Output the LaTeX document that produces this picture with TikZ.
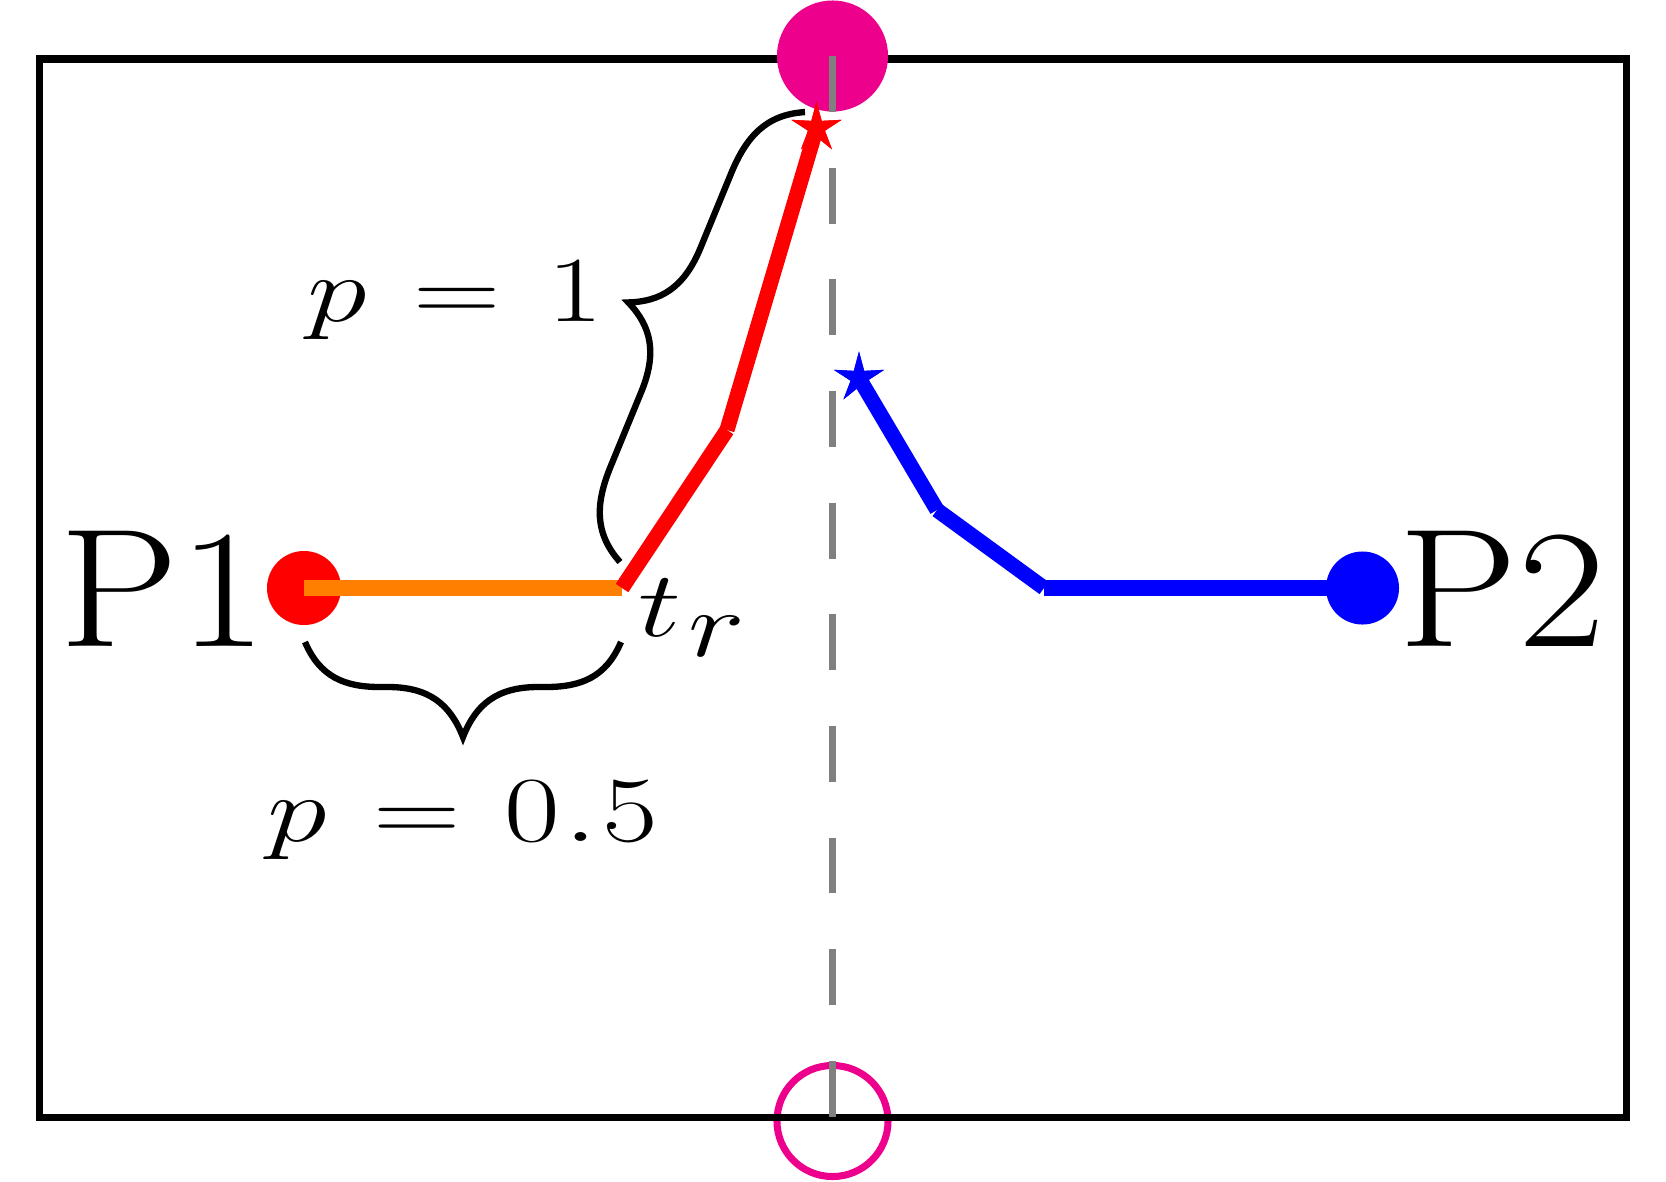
\RequirePackage{fix-cm}
\documentclass[tikz,border=0pt]{standalone}
\usetikzlibrary{shapes.geometric}
\definecolor{mag}{RGB}{236,0,140}
\definecolor{orng}{RGB}{255,128,0}
\definecolor{grayline}{RGB}{128,128,128}
% #1 length, #2 amplitude, #3 arm height, #4 end-curve extent, #5 tip-curve extent
\newcommand\drawbrace[5]{%
  \draw[bracestyle] (0,0) .. controls ({0.2*#4},{0.78*#3}) and ({0.53*#4},#3) .. (#4,#3)
    -- ({#1/2-#5},#3) .. controls ({#1/2-0.45*#5},#3) and ({#1/2-0.17*#5},{#3+0.35*(#2-#3)}) .. ({#1/2},#2)
    .. controls ({#1/2+0.17*#5},{#3+0.35*(#2-#3)}) and ({#1/2+0.45*#5},#3) .. ({#1/2+#5},#3)
    -- ({#1-#4},#3) .. controls ({#1-0.53*#4},#3) and ({#1-0.2*#4},{0.78*#3}) .. (#1,0);}
\tikzset{
  frame/.style={draw=black, line width=2.1pt},
  thickline/.style={line width=4.3pt, line cap=butt},
  bracestyle/.style={draw=black, line width=1.8pt},
  gdash/.style={draw=grayline, line width=2pt, dash pattern=on 0.558cm off 0.558cm},
  dot/.style={circle, inner sep=0pt, minimum size=0.74cm},
  topdot/.style={circle, inner sep=0pt, minimum size=1.11cm, fill=mag},
  ring/.style={circle, inner sep=0pt, minimum size=1.11cm, draw=mag, line width=2pt},
  starmark/.style={star, star points=5, star point ratio=3, inner sep=0pt, minimum size=0.53cm},
  lab/.style={anchor=base west, inner sep=0pt, xscale=1.125, font=\fontsize{48}{56}\selectfont},
  mlab/.style={anchor=base west, inner sep=0pt, xscale=1.3, font=\fontsize{26.5}{31}\selectfont}
}
\begin{document}
\begin{tikzpicture}[x=0.01cm, y=-0.01cm]
\useasboundingbox (0,0) rectangle (1666,1181);
% bottom ring, frame, top dot, dashed axis
\node[ring] (botc) at (832.5,1121) {};
\draw[frame] (39.5,59) rectangle (1626.3,1117.5);
\node[topdot] (topc) at (832.5,56) {};
\draw[gdash] (topc.center) -- (botc.center);
% braces
\begin{scope}[shift={(305,642)}]
  \drawbrace{316}{95}{45}{75}{75}
\end{scope}
\begin{scope}[shift={(620,562)}, rotate=67.65, yscale=-1]
  \drawbrace{486.5}{91}{45}{85}{78}
\end{scope}
% P1 path
\node[dot, fill=red] (p1dot) at (304,588) {};
\coordinate (tr) at (622,588);
\coordinate (rk) at (727,430);
\draw[thickline, orng] (p1dot.center) -- (tr);
\draw[thickline, red] (tr) -- (rk);
\node[starmark, fill=red] (rstar) at (816.5,128) {};
\draw[thickline, red] (rk) -- (rstar.center);
\node[starmark, fill=red] at (rstar.center) {};
% P2 path
\node[dot, fill=blue, minimum size=0.73cm] (p2dot) at (1362.5,588) {};
\coordinate (bk1) at (937,510);
\coordinate (bk2) at (1044,588);
\node[starmark, fill=blue] (bstar) at (859,378) {};
\draw[thickline, blue] (bstar.center) -- (bk1);
\draw[thickline, blue] (bk1) -- (bk2);
\draw[thickline, blue] (bk2) -- (p2dot.center);
\node[starmark, fill=blue] at (bstar.center) {};
% labels
\node[lab] (P1) at (59,646) {P1};
\node[lab] (P2) at (1398,646) {P2};
\node[mlab] (lp1) at (307,321) {$p\hspace{10pt}{=}\hspace{10.4pt}1$};
\node[mlab] (lp05) at (267,841) {$p\hspace{10pt}{=}\hspace{9.7pt}0\kern1pt.\kern1pt5$};
\node[mlab] (ltr) at (638,636) {$t\kern1.5pt\lower5.7pt\hbox{$r$}$};
\end{tikzpicture}
\end{document}
